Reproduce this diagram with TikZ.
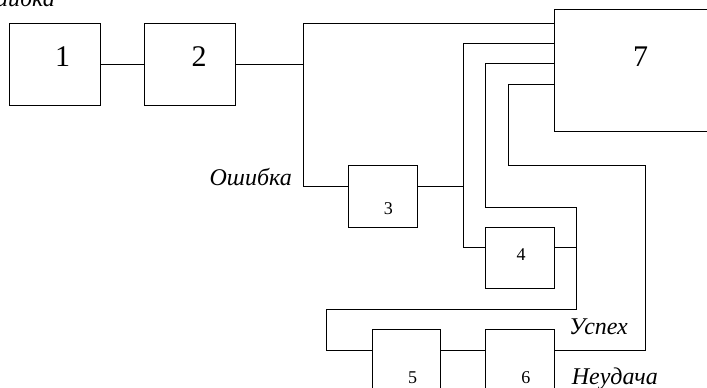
\documentclass[tikz,border=0pt]{standalone}
\usepackage{fontspec}
\setmainfont{Liberation Serif}

\begin{document}
\begin{tikzpicture}[x=1pt, y=-1pt,
    block/.style ={rectangle, draw, thick, inner sep=0pt},
    bignum/.style ={font=\fontsize{30}{30}\selectfont, inner sep=0pt},
    smallnum/.style ={font=\fontsize{18}{18}\selectfont, inner sep=0pt},
    signal/.style ={font=\itshape\fontsize{24}{24}\selectfont, inner sep=0pt}]
   \useasboundingbox (0,0) rectangle (707,388);
   \clip (0,0) rectangle (707,388);

   \node[block, minimum width=91, minimum height=82,
     label={[bignum, xshift=8pt, yshift=7.3pt]center:1}] (A) at (54.5,64) {};
   \node[block, minimum width=91, minimum height=82,
     label={[bignum, xshift=9.5pt, yshift=7.3pt]center:2}] (B) at (189.5,64) {};
   \node[block, minimum width=68.3, minimum height=61.3,
     label={[smallnum, xshift=5.4pt, yshift=-12.4pt]center:3}] (C) at (382.9,196.4) {};
   \node[block, minimum width=68.6, minimum height=61,
     label={[smallnum, xshift=1pt, yshift=3.2pt]center:4}] (D) at (520,258.2) {};
   \node[block, minimum width=68, minimum height=91,
     label={[smallnum, xshift=6pt, yshift=-2.6pt]center:5}] (E) at (406.7,374.8) {};
   \node[block, minimum width=68.6, minimum height=91,
     label={[smallnum, xshift=5.8pt, yshift=-2.6pt]center:6}] (F) at (520,374.8) {};
   \node[block, minimum width=172, minimum height=122.7,
     label={[bignum, xshift=0.7pt, yshift=14pt]center:7}] (G) at (640,70.3) {};

   \coordinate (Ja) at (303.7,23.7);
   \coordinate (Jb) at (303.7,186.7);
   \coordinate (Ka) at (463.3,43.7);
   \coordinate (Kb) at (463.3,247);
   \coordinate (La) at (485.7,63.7);
   \coordinate (Lb) at (485.7,207);
   \coordinate (Lc) at (576.7,207);
   \coordinate (Ld) at (576.7,309);
   \coordinate (Le) at (326,309);
   \coordinate (Lf) at (326,350.7);
   \coordinate (Ma) at (508.3,84);
   \coordinate (Mb) at (508.3,165.7);
   \coordinate (Mc) at (645,165.7);
   \coordinate (Md) at (645,350.7);

   \draw[thick] (A) to (B);
   \draw[thick] (B) to (B -| Ja);
   \draw[thick] (G.west |- Ja) -- (Ja) -- (Jb) -- (C.west |- Jb);
   \draw[thick] (C.east |- Jb) -- (Jb -| Ka);
   \draw[thick] (G.west |- Ka) -- (Ka) -- (Kb) -- (D.west |- Kb);
   \draw[thick] (D.east |- Kb) -- (Kb -| Lc);
   \draw[thick] (G.west |- La) -- (La) -- (Lb) -- (Lc) -- (Ld) -- (Le)
     -- (Lf) -- (E.west |- Lf);
   \draw[thick] (E.east |- Lf) -- (F.west |- Lf);
   \draw[thick] (F.east |- Md) -- (Md) -- (Mc) -- (Mb) -- (Ma) -- (G.west |- Ma);

   \node[signal, anchor=base east] (err0) at (55,6) {Ошибка};
   \node[signal, anchor=base east] (err1) at (292,185.7) {Ошибка};
   \node[signal, anchor=base west] (ok) at (569,334) {Успех};
   \node[signal, anchor=base west] (fail) at (571.7,384) {Неудача};

 \end{tikzpicture}
\end{document}
